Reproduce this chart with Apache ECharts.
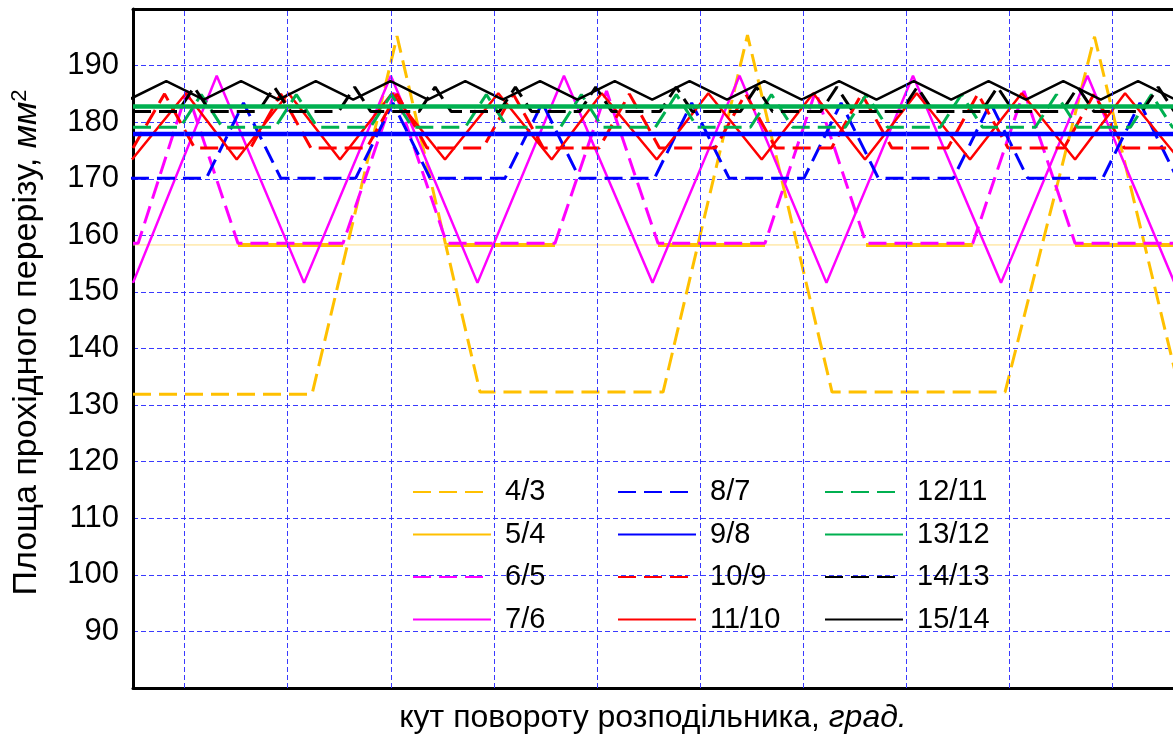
<!DOCTYPE html>
<html>
<head>
<meta charset="utf-8">
<script src="https://cdn.jsdelivr.net/npm/echarts@6/dist/echarts.min.js"></script>
<style>
  html, body { margin: 0; padding: 0; background: #fff; }
  #chart { width: 1173px; height: 735px; }
</style>
</head>
<body>
<div id="chart"></div>
<script>
// Flow-passage area vs. distributor rotation angle for gerotor pairs z2/z1.
// x: rotation angle (grid step 10), y: area, mm²
const s4_3 = [[0,131.9],[17.36,131.9],[25.61,195.2],[33.66,132.3],[51.41,132.3],[59.60,195.4],[67.80,132.3],[84.58,132.3],[93.26,195.1],[101.55,132.3],[103,132.3]];
const s5_4 = [[10.18,158.3],[20.37,158.3],[25,'-'],[30.43,158.3],[40.93,158.3],[45,'-'],[50.92,158.3],[61.30,158.3],[65,'-'],[71.10,158.3],[81.45,158.3],[86,'-'],[91.37,158.3],[102,158.3]];
const s5_4_thin = [[0,158.3],[102,158.3]];
const s6_5 = [[0,158.6],[0.5,158.6],[5.24,185.5],[10.18,158.6],[20.37,158.6],[25.41,185.5],[30.43,158.6],[40.93,158.6],[45.93,185.5],[50.92,158.6],[61.30,158.6],[66.20,185.5],[71.10,158.6],[81.45,158.6],[86.42,185.5],[91.37,158.6],[101.55,158.6]];
const s7_6 = [[0,151.6],[8.12,188.2],[16.59,151.6],[25.01,188.2],[33.41,151.6],[41.80,188.2],[50.39,151.6],[58.83,188.2],[67.26,151.6],[75.65,188.2],[84.19,151.6],[92.58,188.2],[101.02,151.6]];
const s8_7 = [[-0.2,170.1],[7.11,170.1],[10.72,183.4],[14.33,170.1],[21.60,170.1],[25.21,183.4],[28.81,170.1],[36.08,170.1],[39.70,183.4],[43.31,170.1],[50.58,170.1],[54.19,183.4],[57.81,170.1],[65.08,170.1],[68.68,183.4],[72.29,170.1],[79.56,170.1],[83.17,183.4],[86.78,170.1],[94.05,170.1],[97.66,183.4],[101.27,170.1]];
const s9_8 = [[0,177.9],[102,177.9]];
const s10_9 = [[0,175.45],[0.14,175.45],[3.06,185.0],[5.97,175.45],[11.41,175.45],[14.33,185.0],[17.25,175.45],[22.68,175.45],[25.60,185.0],[28.52,175.45],[33.95,175.45],[36.87,185.0],[39.79,175.45],[45.22,175.45],[48.14,185.0],[51.06,175.45],[56.49,175.45],[59.41,185.0],[62.33,175.45],[67.76,175.45],[70.68,185.0],[73.60,175.45],[79.03,175.45],[81.95,185.0],[84.87,175.45],[90.30,175.45],[93.22,185.0],[96.14,175.45],[101.57,175.45]];
const s11_10 = [[-0.1,173.4],[5.14,185.1],[10.06,173.4],[15.08,185.1],[20.08,173.4],[25.12,185.1],[30.26,173.4],[35.43,185.1],[40.61,173.4],[45.46,185.1],[50.80,173.4],[55.80,185.1],[60.98,173.4],[65.98,185.1],[71.00,173.4],[76.01,185.1],[81.18,173.4],[86.20,185.1],[91.37,173.4],[96.22,185.1],[101.50,173.4]];
const s12_11 = [[0,179.1],[4.58,179.1],[6.62,184.9],[8.66,179.1],[13.80,179.1],[15.84,184.9],[17.88,179.1],[23.02,179.1],[25.06,184.9],[27.10,179.1],[32.23,179.1],[34.27,184.9],[36.31,179.1],[41.45,179.1],[43.49,184.9],[45.53,179.1],[50.66,179.1],[52.70,184.9],[54.74,179.1],[59.88,179.1],[61.92,184.9],[63.96,179.1],[69.09,179.1],[71.13,184.9],[73.17,179.1],[78.31,179.1],[80.35,184.9],[82.39,179.1],[87.52,179.1],[89.56,184.9],[91.60,179.1],[96.74,179.1],[98.78,184.9],[100.82,179.1],[102,179.1]];
const s13_12 = [[0,182.75],[102,182.75]];
const s14_13 = [[0,181.9],[4.37,181.9],[5.92,186.2],[7.47,181.9],[12.16,181.9],[13.71,186.2],[15.26,181.9],[19.95,181.9],[21.50,186.2],[23.05,181.9],[27.75,181.9],[29.30,186.2],[30.85,181.9],[35.54,181.9],[37.09,186.2],[38.64,181.9],[43.33,181.9],[44.88,186.2],[46.43,181.9],[51.13,181.9],[52.68,186.2],[54.23,181.9],[58.92,181.9],[60.47,186.2],[62.02,181.9],[66.71,181.9],[68.26,186.2],[69.81,181.9],[74.51,181.9],[76.06,186.2],[77.61,181.9],[82.30,181.9],[83.85,186.2],[85.40,181.9],[90.09,181.9],[91.64,186.2],[93.19,181.9],[97.89,181.9],[99.44,186.2],[100.99,181.9],[102,181.9]];
const s15_14 = [[-0.40,184.0],[3.23,187.25],[6.86,184.0],[10.48,187.25],[14.11,184.0],[17.73,187.25],[21.36,184.0],[24.98,187.25],[28.61,184.0],[32.23,187.25],[35.86,184.0],[39.48,187.25],[43.11,184.0],[46.73,187.25],[50.36,184.0],[53.98,187.25],[57.61,184.0],[61.23,187.25],[64.86,184.0],[68.48,187.25],[72.11,184.0],[75.73,187.25],[79.36,184.0],[82.98,187.25],[86.61,184.0],[90.23,187.25],[93.86,184.0],[97.48,187.25],[101.11,184.0]];

// vertical grid positions along the angle axis
const vGridAt = [5, 15, 25, 35, 45, 55, 65, 75, 85, 95];

const legendCol1 = ['4/3', '5/4', '6/5', '7/6'];
const legendCol2 = ['8/7', '9/8', '10/9', '11/10'];
const legendCol3 = ['12/11', '13/12', '14/13', '15/14'];

const FONT = '"Liberation Sans", Arial, sans-serif';
const YELLOW = '#FFC000', MAGENTA = '#FF00FF', BLUE = '#0000FF', RED = '#FF0000', GREEN = '#00B050', BLACK = '#000000';
const DASH = [18, 8];
const GRIDLINE = { color: '#3a3aff', width: 1, type: [5, 3] };

function lineSeries(name, data, color, width, dashed, z) {
  return {
    name: name,
    type: 'line',
    data: data,
    symbol: 'none',
    showSymbol: false,
    connectNulls: false,
    silent: true,
    z: z,
    lineStyle: { color: color, width: width, type: dashed ? DASH : 'solid', cap: 'butt' },
    itemStyle: { color: color }
  };
}

const legendBase = {
  orient: 'vertical',
  padding: 0,
  itemWidth: 78,
  itemHeight: 16,
  itemGap: 12.5,
  selectedMode: false,
  itemStyle: { opacity: 0, borderWidth: 0 },
  textStyle: { fontSize: 29, fontFamily: FONT, color: '#000', lineHeight: 30, padding: [0, 0, 0, 9] }
};

const chart = echarts.init(document.getElementById('chart'), null, { renderer: 'canvas' });
chart.setOption({
  animation: false,
  backgroundColor: '#fff',
  grid: { left: 133, right: 0, top: 9, bottom: 47, containLabel: false, outerBoundsMode: 'none' },
  legend: [
    Object.assign({}, legendBase, { data: legendCol1, left: 412, top: 477 }),
    Object.assign({}, legendBase, { data: legendCol2, left: 617, top: 477 }),
    Object.assign({}, legendBase, { data: legendCol3, left: 824, top: 477 })
  ],
  xAxis: [
    {
      type: 'value', min: 0, max: 100.87, position: 'bottom',
      axisLine: { show: true, onZero: false, lineStyle: { color: '#000', width: 3 } },
      axisTick: { show: false }, axisLabel: { show: false }, splitLine: { show: false },
      name: '{n|кут повороту розподільника, }{i|град.}',
      nameLocation: 'middle', nameGap: 14,
      nameTextStyle: {
        fontFamily: FONT, color: '#000', fontSize: 32, lineHeight: 32,
        rich: {
          n: { fontFamily: FONT, fontSize: 32, lineHeight: 32, color: '#000' },
          i: { fontFamily: FONT, fontSize: 32, lineHeight: 32, color: '#000', fontStyle: 'italic' }
        }
      }
    },
    {
      type: 'value', min: 0, max: 100.87, position: 'top',
      axisLine: { show: true, onZero: false, lineStyle: { color: '#000', width: 3 } },
      axisTick: { show: false }, axisLabel: { show: false }, splitLine: { show: false }
    }
  ],
  yAxis: {
    type: 'value', min: 80, max: 200, interval: 10,
    axisLine: { show: true, onZero: false, lineStyle: { color: '#000', width: 3 } },
    axisTick: { show: false },
    axisLabel: {
      fontSize: 31, fontFamily: FONT, color: '#000', margin: 14, padding: [0, 0, 10, 0],
      formatter: function (v) { return (v <= 80 || v >= 200) ? '' : String(v); }
    },
    splitLine: { show: true, lineStyle: GRIDLINE },
    name: '{a|Площа прохідного перерізу, }{b|мм}{c|2}',
    nameLocation: 'middle', nameGap: 88,
    nameTextStyle: {
      fontFamily: FONT, color: '#000', fontSize: 34, padding: [0, 0, 0, 12],
      rich: {
        a: { fontFamily: FONT, fontSize: 34, color: '#000' },
        b: { fontFamily: FONT, fontSize: 34, color: '#000', fontStyle: 'italic' },
        c: { fontFamily: FONT, fontSize: 22, color: '#000', padding: [0, 0, 14, 0] }
      }
    }
  },
  series: [
    {
      type: 'line', data: [], silent: true, z: 1, symbol: 'none',
      markLine: {
        silent: true, symbol: ['none', 'none'], animation: false,
        label: { show: false },
        lineStyle: GRIDLINE,
        emphasis: { disabled: true },
        data: vGridAt.map(function (x) { return { xAxis: x }; })
      }
    },
    lineSeries('4/3', s4_3, YELLOW, 3, true, 2),
    { type: 'line', data: s5_4_thin, symbol: 'none', silent: true, z: 2,
      lineStyle: { color: '#FFDD80', width: 1 } },
    lineSeries('5/4', s5_4, YELLOW, 4, false, 2),
    lineSeries('6/5', s6_5, MAGENTA, 3, true, 3),
    lineSeries('7/6', s7_6, MAGENTA, 2.5, false, 3),
    lineSeries('8/7', s8_7, BLUE, 3, true, 3),
    lineSeries('10/9', s10_9, RED, 3, true, 3),
    lineSeries('11/10', s11_10, RED, 2.5, false, 3),
    lineSeries('12/11', s12_11, GREEN, 3, true, 3),
    lineSeries('14/13', s14_13, BLACK, 3, true, 3),
    lineSeries('15/14', s15_14, BLACK, 2.5, false, 3),
    lineSeries('9/8', s9_8, BLUE, 4.5, false, 4),
    lineSeries('13/12', s13_12, GREEN, 4.5, false, 4)
  ]
});
</script>
</body>
</html>
